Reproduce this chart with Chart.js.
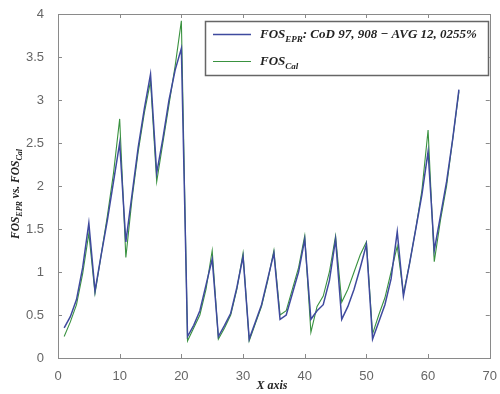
<!DOCTYPE html>
<html><head><meta charset="utf-8">
<script src="https://cdn.jsdelivr.net/npm/chart.js@4"></script>
<style>html,body{margin:0;padding:0;background:#fff}#wrap{width:500px;height:394px}</style>
</head><body><div id="wrap"><canvas id="c" width="500" height="394"></canvas></div>
<script>
const xValues = [1,2,3,4,5,6,7,8,9,10,11,12,13,14,15,16,17,18,19,20,21,22,23,24,25,26,27,28,29,30,31,32,33,34,35,36,37,38,39,40,41,42,43,44,45,46,47,48,49,50,51,52,53,54,55,56,57,58,59,60,61,62,63,64,65];
const fosEpr = [0.35,0.48,0.68,1.05,1.57,0.78,1.2,1.6,2.05,2.5,1.35,1.9,2.45,2.9,3.3,2.15,2.55,3.0,3.35,3.6,0.25,0.38,0.55,0.85,1.15,0.25,0.38,0.52,0.82,1.18,0.22,0.42,0.62,0.92,1.22,0.45,0.5,0.75,1.0,1.38,0.45,0.55,0.62,0.9,1.38,0.45,0.6,0.8,1.05,1.32,0.22,0.42,0.62,0.92,1.47,0.72,1.1,1.5,1.9,2.4,1.25,1.65,2.05,2.55,3.12];
const fosCal = [0.25,0.42,0.62,0.98,1.45,0.75,1.2,1.65,2.15,2.78,1.17,1.85,2.4,2.85,3.22,2.05,2.5,2.95,3.4,3.92,0.2,0.35,0.5,0.8,1.25,0.22,0.35,0.5,0.8,1.22,0.2,0.4,0.6,0.9,1.25,0.5,0.55,0.8,1.05,1.42,0.3,0.6,0.72,1.0,1.42,0.65,0.8,1.0,1.2,1.35,0.28,0.5,0.7,1.0,1.3,0.75,1.1,1.5,1.95,2.65,1.12,1.6,2.0,2.55,3.1];
const xTicks = [0,10,20,30,40,50,60,70];
const yTicks = [0,0.5,1,1.5,2,2.5,3,3.5,4];
const yTickLabels = ["0","0.5","1","1.5","2","2.5","3","3.5","4"];
const legendEpr = [["FOS",0],["EPR",1],[": CoD 97, 908 \u2212 AVG 12, 0255%",0]];
const legendCal = [["FOS",0],["Cal",1]];
const yTitle = [["FOS",0],["EPR",1],[" vs. FOS",0],["Cal",1]];
const xTitle = "X axis";

const BLUE = '#3f4a9e', GREEN = '#3a9240', AX = '#8a8a8a';
const SERIF = "'Liberation Serif','DejaVu Serif',serif";

function richWidth(ctx, segs, size){
  let w=0;
  for(const [t,s] of segs){ctx.font='bold italic '+(s?Math.round(size*0.68):size)+'px '+SERIF; w+=ctx.measureText(t).width;}
  return w;
}
function drawRich(ctx, segs, x, y, size){
  ctx.textBaseline='alphabetic'; ctx.textAlign='left';
  for(const [t,s] of segs){
    ctx.font='bold italic '+(s?Math.round(size*0.68):size)+'px '+SERIF;
    ctx.fillText(t, x, y + (s? size*0.28:0));
    x+=ctx.measureText(t).width;
  }
}

const framePlugin = {
  id:'frame',
  afterDraw(chart){
    const ctx=chart.ctx, a=chart.chartArea, xs=chart.scales.x, ys=chart.scales.y;
    ctx.save();
    ctx.strokeStyle=AX; ctx.lineWidth=1;
    ctx.strokeRect(Math.round(a.left)+0.5, Math.round(a.top)+0.5, Math.round(a.right-a.left), Math.round(a.bottom-a.top));
    ctx.beginPath();
    for(const v of xTicks){const px=Math.round(xs.getPixelForValue(v))+0.5;
      ctx.moveTo(px,a.bottom); ctx.lineTo(px,a.bottom-4); ctx.moveTo(px,a.top); ctx.lineTo(px,a.top+4);}
    for(const v of yTicks){const py=Math.round(ys.getPixelForValue(v))+0.5;
      ctx.moveTo(a.left,py); ctx.lineTo(a.left+4,py); ctx.moveTo(a.right,py); ctx.lineTo(a.right-4,py);}
    ctx.stroke();
    // legend box
    const lx=205, ly=21, lw=283, lh=54;
    ctx.fillStyle='#fff'; ctx.fillRect(lx,ly,lw,lh);
    ctx.strokeStyle='#666'; ctx.lineWidth=1.5; ctx.strokeRect(lx+0.5,ly+0.5,lw,lh);
    ctx.lineWidth=1.5; ctx.strokeStyle=BLUE; ctx.beginPath(); ctx.moveTo(213,34.5); ctx.lineTo(251,34.5); ctx.stroke();
    ctx.lineWidth=1; ctx.strokeStyle=GREEN; ctx.beginPath(); ctx.moveTo(213,61.5); ctx.lineTo(251,61.5); ctx.stroke();
    ctx.fillStyle='#222';
    let size=13; while(richWidth(ctx,legendEpr,size)>217 && size>8) size-=0.5;
    drawRich(ctx, legendEpr, 260, 38, size);
    drawRich(ctx, legendCal, 260, 65, size);
    // y title
    ctx.save();
    const ysz=11.5, yw=richWidth(ctx,yTitle,ysz);
    ctx.translate(19, (a.top+a.bottom)/2+8); ctx.rotate(-Math.PI/2);
    drawRich(ctx, yTitle, -yw/2, 0, ysz);
    ctx.restore();
    // x title
    ctx.font='bold italic 12px '+SERIF; ctx.textAlign='center'; ctx.textBaseline='alphabetic';
    ctx.fillText(xTitle,(a.left+a.right)/2-2,389);
    ctx.restore();
  }
};

new Chart(document.getElementById('c'),{
  type:'line',
  data:{datasets:[
    {label:'EPR',data:xValues.map((x,i)=>({x,y:fosEpr[i]})),borderColor:BLUE,borderWidth:1.5,pointRadius:0,tension:0,fill:false},
    {label:'Cal',data:xValues.map((x,i)=>({x,y:fosCal[i]})),borderColor:GREEN,borderWidth:1.1,pointRadius:0,tension:0,fill:false}
  ]},
  options:{
    responsive:false,animation:false,
    layout:{padding:{left:0,right:4,top:14,bottom:0}},
    plugins:{legend:{display:false},tooltip:{enabled:false},title:{display:false}},
    scales:{
      x:{type:'linear',min:0,max:70,afterFit(s){s.height=36;},
        afterBuildTicks(s){s.ticks=xTicks.map(v=>({value:v}));},
        grid:{display:false},border:{display:false},
        ticks:{color:'#666',font:{family:"'Liberation Sans',Arial,sans-serif",size:13},padding:3,maxRotation:0,autoSkip:false,
          callback:(v)=>String(v)}},
      y:{type:'linear',min:0,max:4,afterFit(s){s.width=58;},
        afterBuildTicks(s){s.ticks=yTicks.map(v=>({value:v}));},
        grid:{display:false},border:{display:false},
        ticks:{color:'#666',font:{family:"'Liberation Sans',Arial,sans-serif",size:13},padding:6,autoSkip:false,
          callback:(v)=>{const i=yTicks.indexOf(v);return i>=0?yTickLabels[i]:String(v);}}}
    }
  },
  plugins:[framePlugin]
});
</script></body></html>
